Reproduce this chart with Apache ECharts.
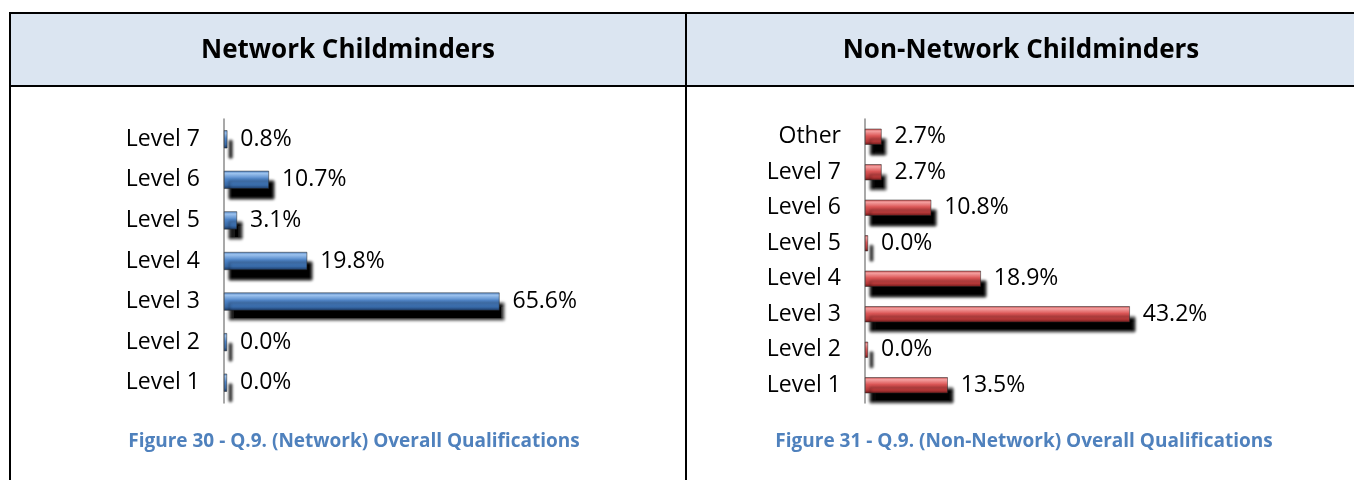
<!DOCTYPE html>
<html>
<head>
<meta charset="utf-8">
<script src="https://cdn.jsdelivr.net/npm/echarts@6/dist/echarts.min.js"></script>
<style>
  html, body { margin: 0; padding: 0; background: #fff; }
  #chart { width: 1354px; height: 480px; }
</style>
</head>
<body>
<div id="chart"></div>
<script>
// data, bottom row first
const networkLevels = ['Level 1', 'Level 2', 'Level 3', 'Level 4', 'Level 5', 'Level 6', 'Level 7']
const networkValues = [0.0, 0.0, 65.6, 19.8, 3.1, 10.7, 0.8]

const nonNetworkLevels = ['Level 1', 'Level 2', 'Level 3', 'Level 4', 'Level 5', 'Level 6', 'Level 7', 'Other']
const nonNetworkValues = [13.5, 0.0, 43.2, 18.9, 0.0, 10.8, 2.7, 2.7]

const headers = ['Network Childminders', 'Non-Network Childminders']
const captions = [
    'Figure 30 - Q.9. (Network) Overall Qualifications',
    'Figure 31 - Q.9. (Non-Network) Overall Qualifications',
]

const FONT = '"Open Sans", Lato, sans-serif'

const bevel = (top, light, mid, low, edge) => new echarts.graphic.LinearGradient(0, 0, 0, 1, [
    { offset: 0, color: top },
    { offset: 0.15, color: light },
    { offset: 0.45, color: mid },
    { offset: 0.8, color: low },
    { offset: 1, color: edge },
])

const blueFill = bevel('#5486c4', '#9cc2ee', '#4f85c8', '#386aa8', '#1b3862')
const redFill = bevel('#c44c4c', '#f4a0a0', '#dc5757', '#b83939', '#6a1818')

const barSeries = (idx, values, fill, width) => ({
    type: 'bar',
    xAxisIndex: idx,
    yAxisIndex: idx,
    data: values,
    barWidth: width,
    barMinHeight: 3,
    itemStyle: {
        color: fill,
        borderColor: '#222',
        borderWidth: 0.5,
        shadowColor: '#000',
        shadowBlur: 3,
        shadowOffsetX: 5,
        shadowOffsetY: 10,
    },
    label: {
        show: true,
        position: 'right',
        distance: 13,
        color: '#000',
        fontFamily: FONT,
        fontSize: 23,
        formatter: p => p.value.toFixed(1) + '%',
    },
})

const catAxis = (idx, cats) => ({
    type: 'category',
    gridIndex: idx,
    data: cats,
    axisLine: { show: true, lineStyle: { color: '#8c8c8c', width: 1.5 } },
    axisTick: { show: false },
    axisLabel: { color: '#000', fontFamily: FONT, fontSize: 23, margin: 24 },
})

const valAxis = (idx, max) => ({
    type: 'value',
    gridIndex: idx,
    min: 0,
    max,
    show: false,
})

const line = (x1, y1, x2, y2, w) => ({
    type: 'line',
    shape: { x1, y1, x2, y2 },
    style: { stroke: '#000', lineWidth: w },
    silent: true,
})

const headerText = (x, text) => ({
    type: 'text',
    x, y: 51,
    style: {
        text, fill: '#000', font: 'bold 26px ' + FONT,
        textAlign: 'center', textVerticalAlign: 'middle',
    },
})

const captionText = (x, text) => ({
    type: 'text',
    x, y: 442,
    style: {
        text, fill: '#4f81bd', font: 'bold 19px ' + FONT,
        textAlign: 'center', textVerticalAlign: 'middle',
    },
})

const chart = echarts.init(document.getElementById('chart'))
chart.setOption({
    animation: false,
    grid: [
        { left: 224, top: 119, width: 420, height: 284 },
        { left: 865, top: 119, width: 306.5, height: 284 },
    ],
    xAxis: [valAxis(0, 100), valAxis(1, 50)],
    yAxis: [catAxis(0, networkLevels), catAxis(1, nonNetworkLevels)],
    series: [
        barSeries(0, networkValues, blueFill, 18),
        barSeries(1, nonNetworkValues, redFill, 16),
    ],
    graphic: [
        {
            type: 'rect',
            shape: { x: 10, y: 13, width: 1344, height: 73 },
            style: { fill: '#dbe5f1' },
            silent: true,
            z: -1,
        },
        line(9, 13, 1354, 13, 2),
        line(9, 86, 1354, 86, 2),
        line(10, 13, 10, 480, 2),
        line(686, 13, 686, 480, 2),
        headerText(348, headers[0]),
        headerText(1021, headers[1]),
        captionText(354, captions[0]),
        captionText(1024, captions[1]),
    ],
})
</script>
</body>
</html>
